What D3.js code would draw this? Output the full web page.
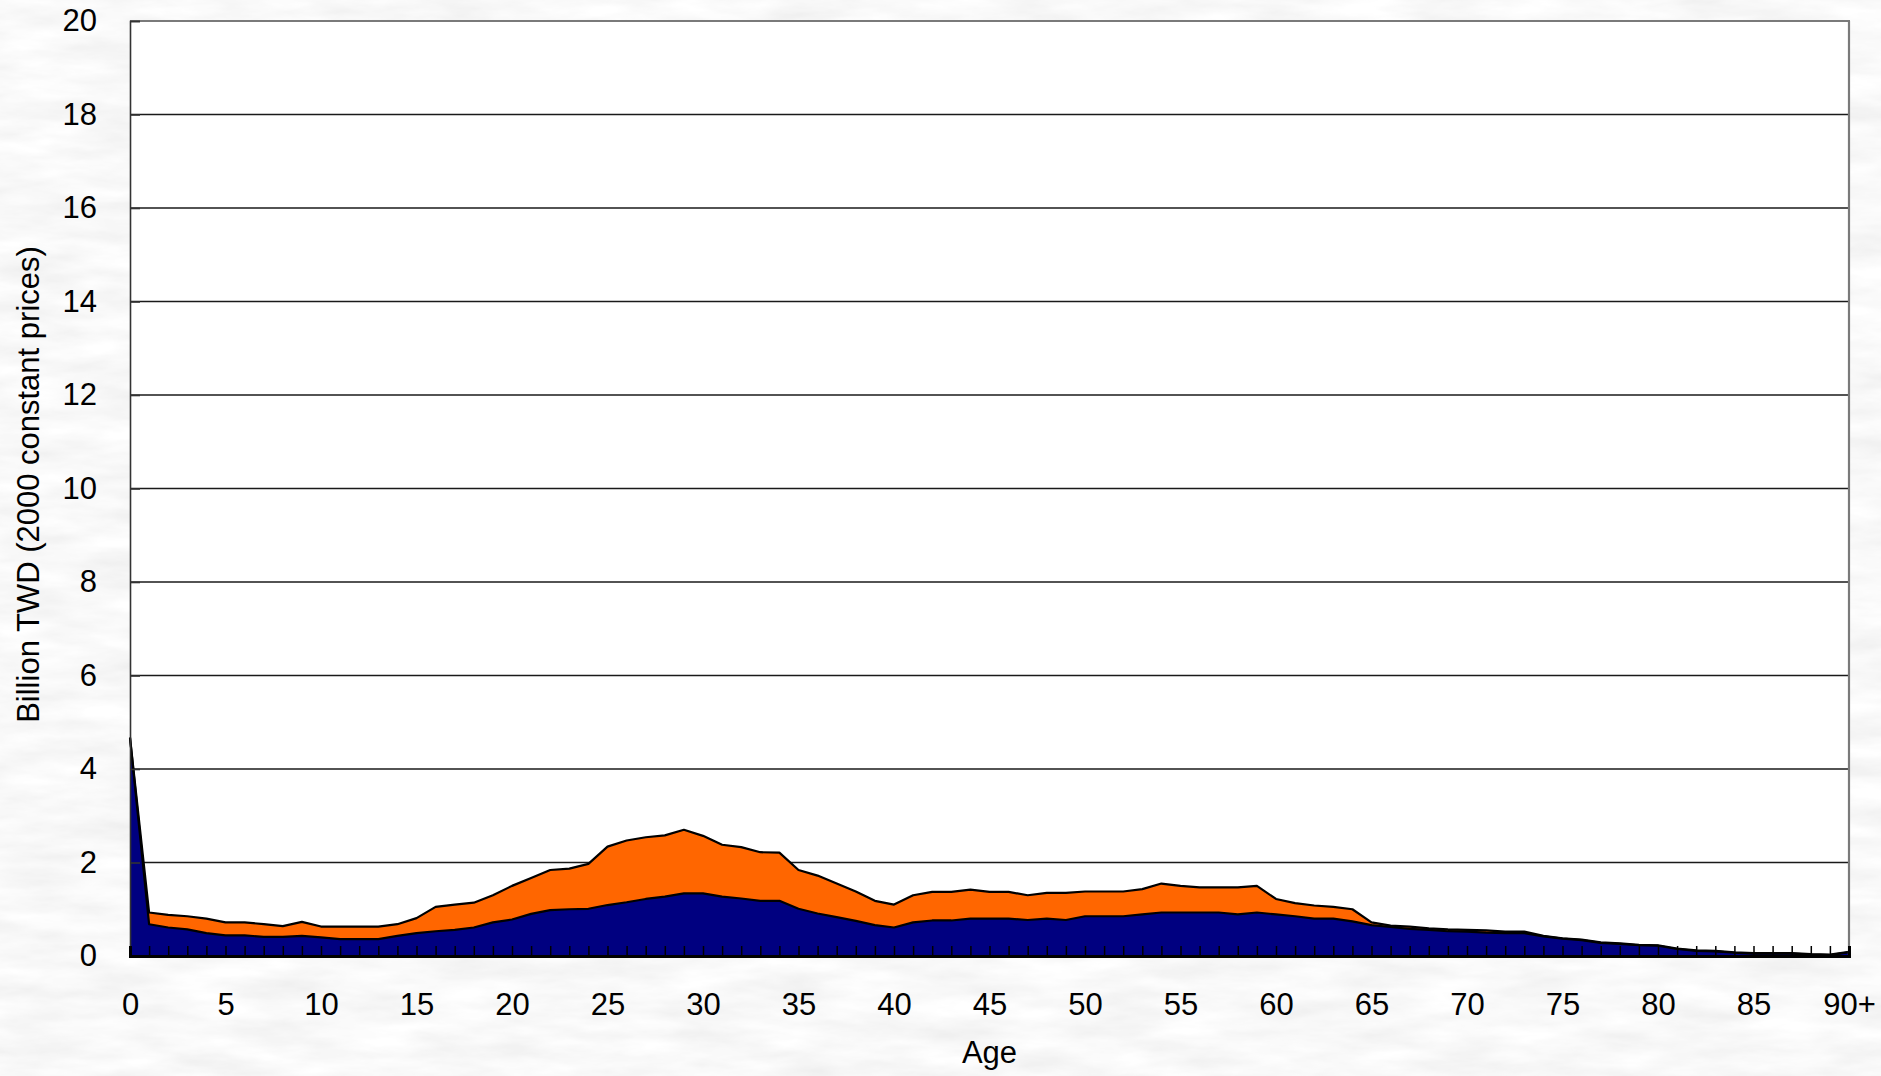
<!DOCTYPE html>
<html>
<head>
<meta charset="utf-8">
<script src="https://cdn.jsdelivr.net/npm/d3@7"></script>
<style>
  html, body { margin: 0; padding: 0; background: #f1f1f1; }
  svg { display: block; }
  text { font-family: "Liberation Sans", Arial, sans-serif; fill: #000; }
</style>
</head>
<body>
<svg id="chart" width="1881" height="1076"></svg>
<script>
// ---- Data ----
const ages = d3.range(0, 91);
const ageLabels = ages.map(a => a === 90 ? "90+" : String(a));
const yTicks = [0, 2, 4, 6, 8, 10, 12, 14, 16, 18, 20];

// lower series (navy)
const seriesNavy = [
  4.67, 0.68, 0.61, 0.57, 0.49, 0.44, 0.44, 0.41, 0.41, 0.43,
  0.40, 0.36, 0.36, 0.36, 0.43, 0.49, 0.53, 0.56, 0.61, 0.72,
  0.78, 0.90, 0.98, 1.00, 1.01, 1.09, 1.15, 1.22, 1.27, 1.34,
  1.34, 1.27, 1.23, 1.18, 1.18, 1.01, 0.91, 0.83, 0.75, 0.66,
  0.61, 0.72, 0.76, 0.76, 0.80, 0.80, 0.80, 0.77, 0.80, 0.77,
  0.85, 0.85, 0.85, 0.89, 0.93, 0.93, 0.93, 0.93, 0.89, 0.93,
  0.89, 0.85, 0.80, 0.80, 0.74, 0.66, 0.62, 0.58, 0.56, 0.53,
  0.52, 0.50, 0.49, 0.49, 0.42, 0.37, 0.34, 0.28, 0.26, 0.23,
  0.22, 0.15, 0.11, 0.10, 0.07, 0.05, 0.05, 0.05, 0.03, 0.02,
  0.08
];
// upper series (orange), stacked on top
const seriesOrange = [
  0.00, 0.25, 0.27, 0.28, 0.31, 0.28, 0.28, 0.27, 0.23, 0.30,
  0.23, 0.27, 0.27, 0.27, 0.25, 0.32, 0.52, 0.54, 0.53, 0.58,
  0.72, 0.77, 0.86, 0.87, 0.96, 1.25, 1.32, 1.32, 1.31, 1.36,
  1.23, 1.11, 1.10, 1.04, 1.03, 0.83, 0.81, 0.72, 0.63, 0.52,
  0.49, 0.58, 0.61, 0.61, 0.62, 0.57, 0.57, 0.53, 0.55, 0.58,
  0.53, 0.53, 0.53, 0.54, 0.62, 0.57, 0.54, 0.54, 0.58, 0.57,
  0.33, 0.28, 0.28, 0.25, 0.26, 0.06, 0.03, 0.05, 0.03, 0.04,
  0.04, 0.05, 0.03, 0.03, 0.01, 0.01, 0.01, 0.01, 0.01, 0.01,
  0.01, 0.01, 0.01, 0.01, 0.01, 0.01, 0.01, 0.01, 0.01, 0.01,
  0.01
];

// ---- Layout ----
const W = 1881, H = 1076;
const L = 130, T = 21, R = 1849, B = 956;

const svg = d3.select("#chart");

// textured light-grey background
const defs = svg.append("defs");
const f = defs.append("filter").attr("id", "marble")
  .attr("x", 0).attr("y", 0).attr("width", "100%").attr("height", "100%");
f.append("feTurbulence").attr("type", "fractalNoise")
  .attr("baseFrequency", "0.012 0.05").attr("numOctaves", 4).attr("seed", 7);
f.append("feColorMatrix").attr("type", "matrix")
  .attr("values", "0.2 0 0 0 0.845  0.2 0 0 0 0.845  0.2 0 0 0 0.845  0 0 0 0 1");
svg.append("rect").attr("width", W).attr("height", H).attr("filter", "url(#marble)");

const x = d3.scalePoint().domain(ageLabels).range([L, R]);
const y = d3.scaleLinear().domain([0, 20]).range([B, T]);

// plot background
svg.append("rect").attr("x", L).attr("y", T).attr("width", R - L).attr("height", B - T)
  .attr("fill", "#ffffff");

// gridlines
svg.append("g").selectAll("line").data(yTicks.filter(v => v > 0 && v < 20)).join("line")
  .attr("x1", L).attr("x2", R).attr("y1", d => y(d)).attr("y2", d => y(d))
  .attr("stroke", "#1a1a1a").attr("stroke-width", 1.3);

// stacked areas
const rows = ages.map((a, i) => ({ label: ageLabels[i], navy: seriesNavy[i], orange: seriesOrange[i] }));
const stack = d3.stack().keys(["navy", "orange"])(rows);
const colors = { navy: "#000080", orange: "#FF6600" };

const area = d3.area()
  .x(d => x(d.data.label))
  .y0(d => y(d[0]))
  .y1(d => y(d[1]));
const topLine = d3.line()
  .x(d => x(d.data.label))
  .y(d => y(d[1]));

svg.append("g").selectAll("path").data(stack).join("path")
  .attr("d", area).attr("fill", s => colors[s.key]);

svg.append("g").selectAll("path").data(stack.slice().reverse()).join("path")
  .attr("d", topLine).attr("fill", "none")
  .attr("stroke", "#000").attr("stroke-width", 2.2).attr("stroke-linejoin", "round");

// frame (top and right)
svg.append("line").attr("x1", L).attr("x2", R + 1).attr("y1", T).attr("y2", T)
  .attr("stroke", "#7a7a7a").attr("stroke-width", 2.2);
svg.append("line").attr("x1", R).attr("x2", R).attr("y1", T).attr("y2", B)
  .attr("stroke", "#7a7a7a").attr("stroke-width", 2.2);

// y axis
const yAxis = svg.append("g").attr("transform", `translate(${L},0)`)
  .call(d3.axisLeft(y).tickValues(yTicks).tickSize(-10).tickPadding(33).tickFormat(d3.format("d")));
yAxis.select(".domain").attr("stroke", "#333").attr("stroke-width", 1.6);
yAxis.selectAll(".tick line").attr("stroke", "#333").attr("stroke-width", 1.6);
yAxis.selectAll("text").attr("font-size", 31).attr("fill", "#000")
  .attr("font-family", "'Liberation Sans', Arial, sans-serif");

// x axis
const xAxis = svg.append("g").attr("transform", `translate(0,${B})`)
  .call(d3.axisBottom(x).tickSize(-10).tickPadding(37)
    .tickFormat((d, i) => (i % 5 === 0 ? d : "")));
xAxis.select(".domain").attr("stroke", "#000").attr("stroke-width", 3);
xAxis.selectAll(".tick line").attr("stroke", "#000").attr("stroke-width", 1.5);
xAxis.selectAll("text").attr("font-size", 31).attr("fill", "#000")
  .attr("font-family", "'Liberation Sans', Arial, sans-serif");

// axis titles
svg.append("text").attr("x", (L + R) / 2).attr("y", 1063)
  .attr("text-anchor", "middle").attr("font-size", 31).text("Age");
svg.append("text")
  .attr("transform", `translate(39,${(T + B) / 2 - 4}) rotate(-90)`)
  .attr("text-anchor", "middle").attr("font-size", 31)
  .text("Billion TWD (2000 constant prices)");
</script>
</body>
</html>
